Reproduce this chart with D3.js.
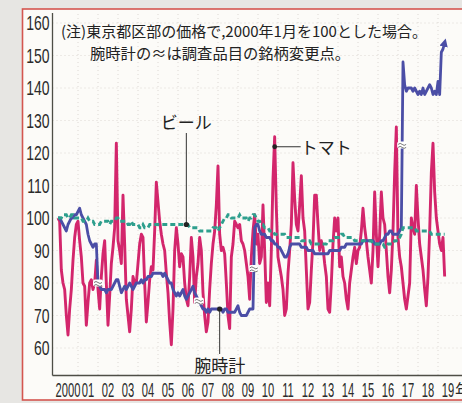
<!DOCTYPE html>
<html>
<head>
<meta charset="utf-8">
<script src="https://cdn.jsdelivr.net/npm/d3@7"></script>
<style>
  html, body { margin: 0; padding: 0; background: #e7e6e3; }
  svg { display: block; }
</style>
</head>
<body>
<svg id="chart" width="462" height="403"></svg>
<script>
// Year labels along the bottom (label sits in the middle of each year)
const yearLabels = ["2000","01","02","03","04","05","06","07","08","09",
                    "10","11","12","13","14","15","16","17","18","19"];
const yTicks = [60, 70, 80, 90, 100, 110, 120, 130, 140, 150, 160];

// Monthly index values, Jan 2000 = 100 (Tokyo wards), one row per year
const tomato = [
  [100,99,84,80,78,70,64,72,78,87,94,98],
  [99,93,88,80,79,67,74,80,81,78,80,87],
  [78,72,82,89,93,80,67,76,86,91,97,123],
  [93,90,86,107,92,75,70,65,72,82,80,80],
  [86,92,95,94,80,68,74,81,85,84,96,111],
  [105,99,95,92,90,83,77,68,61,72,90,97],
  [92,85,89,88,80,75,73,82,94,88,74,82],
  [86,94,90,77,70,65,68,78,86,92,96,104],
  [116,95,90,91,89,80,70,66,88,92,99,98],
  [97,98,93,92,90,86,82,75,88,96,101,92],
  [95,86,88,104,90,74,80,73,90,112,125,103],
  [88,85,82,78,70,72,83,90,98,117,106,98],
  [96,104,113,100,96,84,72,74,84,93,107,107],
  [98,90,93,91,86,82,72,71,80,92,100,96],
  [100,85,88,82,80,75,72,80,84,88,91,86],
  [90,91,96,103,97,93,88,84,80,90,108,95],
  [85,95,108,100,98,90,82,77,84,96,114,128],
  [94,88,85,80,75,72,76,80,100,97,95,110],
  [100,92,88,84,78,73,82,96,114,123,108,100],
  [96,92,90,94,82]
].flat();

const watch = [
  [100,100,99,98,97,96,98,99,100,100,101,101],
  [102,103,101,100,99,98,95,93,92,91,92,92],
  [80,79,78,78,78,77,78,78,78,79,80,81],
  [81,79,77,78,79,78,79,80,79,78,79,80],
  [80,80,81,80,81,81,82,82,82,83,83,83],
  [83,83,83,82,83,82,81,80,80,78,77,76],
  [77,76,77,78,76,75,76,77,78,79,77,76],
  [75,74,73,72,72,71,72,71,72,72,72,72],
  [72,72,72,71,72,72,71,71,71,71,71,72],
  [73,71,70,70,70,70,71,72,72,72,97,98],
  [98,96,95,95,95,94,94,94,93,93,92,92],
  [91,91,90,89,88,88,89,91,92,92,92,92],
  [92,92,91,91,91,91,90,90,90,90,89,89],
  [89,89,89,89,89,89,89,90,90,90,90,90],
  [90,90,91,91,91,92,92,92,92,92,92,92],
  [92,92,92,93,93,93,93,93,93,93,92,92],
  [92,92,93,93,94,95,95,96,96,95,95,95],
  [95,96,97,148,141,139,140,140,140,139,140,139],
  [138,139,138,140,138,139,140,141,140,138,139,138],
  [142,138,151,152,154]
].flat();

const beer = [
  [100,100,100,101,101,101,100,100,101,101,100,100],
  [100,100,100,99,99,99,100,99,99,99,98,98],
  [98,98,99,99,99,99,99,98,99,99,99,100],
  [100,99,99,99,99,99,98,98,99,98,98,98],
  [98,97,97,98,97,97,97,98,98,98,98,98],
  [98,98,98,98,98,98,98,98,98,98,98,98],
  [98,98,98,98,98,98,98,97,97,97,97,97],
  [97,96,96,96,96,96,96,96,96,97,97,97],
  [96,97,98,99,100,100,101,101,100,100,100,100],
  [100,101,100,100,100,100,99,100,100,101,101,100],
  [99,99,98,98,97,97,97,96,96,96,95,95],
  [95,95,95,95,95,94,94,94,94,94,94,94],
  [94,94,93,93,93,93,93,93,92,92,92,92],
  [92,92,92,92,92,92,93,93,93,93,94,94],
  [94,94,95,95,94,94,94,94,94,94,93,93],
  [93,93,93,93,93,93,93,93,93,92,92,92],
  [92,92,92,92,91,91,92,92,92,92,93,93],
  [93,94,95,97,97,97,97,97,97,97,97,96],
  [96,96,96,96,96,96,96,96,95,95,95,95],
  [95,95,95,95,95]
].flat();

// Brand changes in the watch survey item (month index, may fall between months)
const watchBreaks = [24, 84.5, 117.5, 206.5];

// Months at which each series name is attached
const labelMonths = { beer: 77, tomato: 130, watch: 97 };

const noteLines = [
  "(注)東京都区部の価格で,2000年1月を100とした場合。",
  "腕時計の≈は調査品目の銘柄変更点。"
];

const W = 462, H = 403;
const svg = d3.select("#chart");
const JP = "'Noto Sans CJK JP', 'Noto Sans', sans-serif";
const NUM = "'Liberation Sans', Arial, sans-serif";

// paper and frame
svg.append("rect").attr("width", W).attr("height", H).attr("fill", "#e7e6e3");
svg.append("rect")
  .attr("x", 22.5).attr("y", 9).attr("width", 460).attr("height", 391)
  .attr("fill", "#fcfbf8").attr("stroke", "#d4564f").attr("stroke-width", 1.6);

const x = d3.scaleLinear().domain([0, 240]).range([58, 458]);
const y = d3.scaleLinear().domain([60, 160]).range([348, 23]);
const axisX = 52.5, axisBottom = 375.5;

// grid
const grid = svg.append("g").attr("stroke", "#d6d0ca").attr("stroke-width", 0.8)
  .attr("stroke-dasharray", "1,3");
grid.selectAll("line.h").data(yTicks).join("line").attr("class", "h")
  .attr("x1", axisX).attr("x2", W).attr("y1", d => y(d)).attr("y2", d => y(d));
grid.selectAll("line.v").data(d3.range(1, 20)).join("line").attr("class", "v")
  .attr("x1", d => x(d * 12)).attr("x2", d => x(d * 12))
  .attr("y1", 14).attr("y2", axisBottom);

// y labels: tall, horizontally condensed numerals
svg.append("g").selectAll("text").data(yTicks).join("text")
  .attr("transform", d => `translate(${axisX - 3},${y(d)}) scale(0.7,1)`)
  .attr("dy", "0.36em").attr("text-anchor", "end")
  .attr("font-family", NUM).attr("font-size", 20).attr("fill", "#2b2b2b")
  .text(d => d);

// x labels
const xl = svg.append("g");
xl.selectAll("text").data(yearLabels).join("text")
  .attr("transform", (d, i) => `translate(${x(i * 12 + 6)},397) scale(0.56,1)`)
  .attr("text-anchor", "middle").attr("font-family", NUM).attr("font-size", 20)
  .attr("fill", "#2b2b2b").text(d => d);
xl.append("text").attr("x", x(19 * 12 + 6) + 7).attr("y", 396)
  .attr("font-family", JP).attr("font-size", 16).attr("fill", "#2b2b2b").text("年");

// axis lines
svg.append("line").attr("x1", axisX).attr("x2", axisX).attr("y1", 13).attr("y2", axisBottom)
  .attr("stroke", "#4e4e46").attr("stroke-width", 1.3);
svg.append("line").attr("x1", axisX).attr("x2", W).attr("y1", axisBottom).attr("y2", axisBottom)
  .attr("stroke", "#4e4e46").attr("stroke-width", 1.3);

// series lines
const line = d3.line().x((d, i) => x(i)).y(d => y(d));

svg.append("defs").append("marker")
  .attr("id", "arrowhead").attr("viewBox", "0 0 10 10")
  .attr("refX", 5).attr("refY", 5).attr("markerWidth", 3).attr("markerHeight", 3)
  .attr("orient", "auto")
  .append("path").attr("d", "M0,0 L10,5 L0,10 z").attr("fill", "#4b4ea6");

svg.append("path").datum(tomato).attr("d", line)
  .attr("fill", "none").attr("stroke", "#d3266c").attr("stroke-width", 2.9)
  .attr("stroke-linejoin", "round");
svg.append("path").datum(watch).attr("d", line)
  .attr("fill", "none").attr("stroke", "#4b4ea6").attr("stroke-width", 2.8)
  .attr("stroke-linejoin", "round").attr("marker-end", "url(#arrowhead)");
svg.append("path").datum(beer).attr("d", line)
  .attr("fill", "none").attr("stroke", "#2e9f8d").attr("stroke-width", 2.8)
  .attr("stroke-dasharray", "5,3");

// brand-change marks on the watch line
function valueAt(arr, m) {
  const i = Math.floor(m), f = m - i;
  return f === 0 ? arr[i] : arr[i] * (1 - f) + arr[i + 1] * f;
}
const br = svg.append("g").selectAll("g").data(watchBreaks).join("g")
  .attr("transform", d => `translate(${x(d)},${y(valueAt(watch, d))})`);
br.append("rect").attr("x", -5).attr("y", -3.5).attr("width", 10).attr("height", 7)
  .attr("rx", 2).attr("fill", "#ffffff");
br.append("path").attr("d", "M-4,-0.5 q2,-2 4,0 t4,0 M-4,2.5 q2,-2 4,0 t4,0")
  .attr("fill", "none").attr("stroke", "#666").attr("stroke-width", 0.9);

// series names with leaders
const lab = svg.append("g").attr("font-family", JP).attr("font-size", 17).attr("fill", "#222");
const leader = svg.append("g").attr("stroke", "#333").attr("stroke-width", 1);
const dots = svg.append("g").attr("fill", "#222");

const bx = x(labelMonths.beer), by = y(beer[labelMonths.beer]);
leader.append("line").attr("x1", bx).attr("x2", bx).attr("y1", 133).attr("y2", by);
dots.append("circle").attr("cx", bx).attr("cy", by).attr("r", 2.6);
lab.append("text").attr("x", bx).attr("y", 129).attr("text-anchor", "middle").text("ビール");

const tx = x(labelMonths.tomato), ty = y(tomato[labelMonths.tomato]) + 10;
leader.append("line").attr("x1", tx).attr("x2", tx + 26).attr("y1", ty).attr("y2", ty);
dots.append("circle").attr("cx", tx).attr("cy", ty).attr("r", 2.4);
lab.append("text").attr("x", tx + 26).attr("y", ty + 7).text("トマト");

const wx = x(labelMonths.watch), wy = y(watch[labelMonths.watch]);
leader.append("line").attr("x1", wx).attr("x2", wx).attr("y1", wy).attr("y2", 354);
dots.append("circle").attr("cx", wx).attr("cy", wy).attr("r", 2.6);
lab.append("text").attr("x", wx).attr("y", 372).attr("text-anchor", "middle").text("腕時計");

// note
const note = svg.append("g").attr("font-family", JP).attr("fill", "#222");
note.append("text").attr("x", 61).attr("y", 37).attr("font-size", 15).text(noteLines[0]);
note.append("text").attr("x", 90).attr("y", 59).attr("font-size", 15.3).text(noteLines[1]);
</script>
</body>
</html>
